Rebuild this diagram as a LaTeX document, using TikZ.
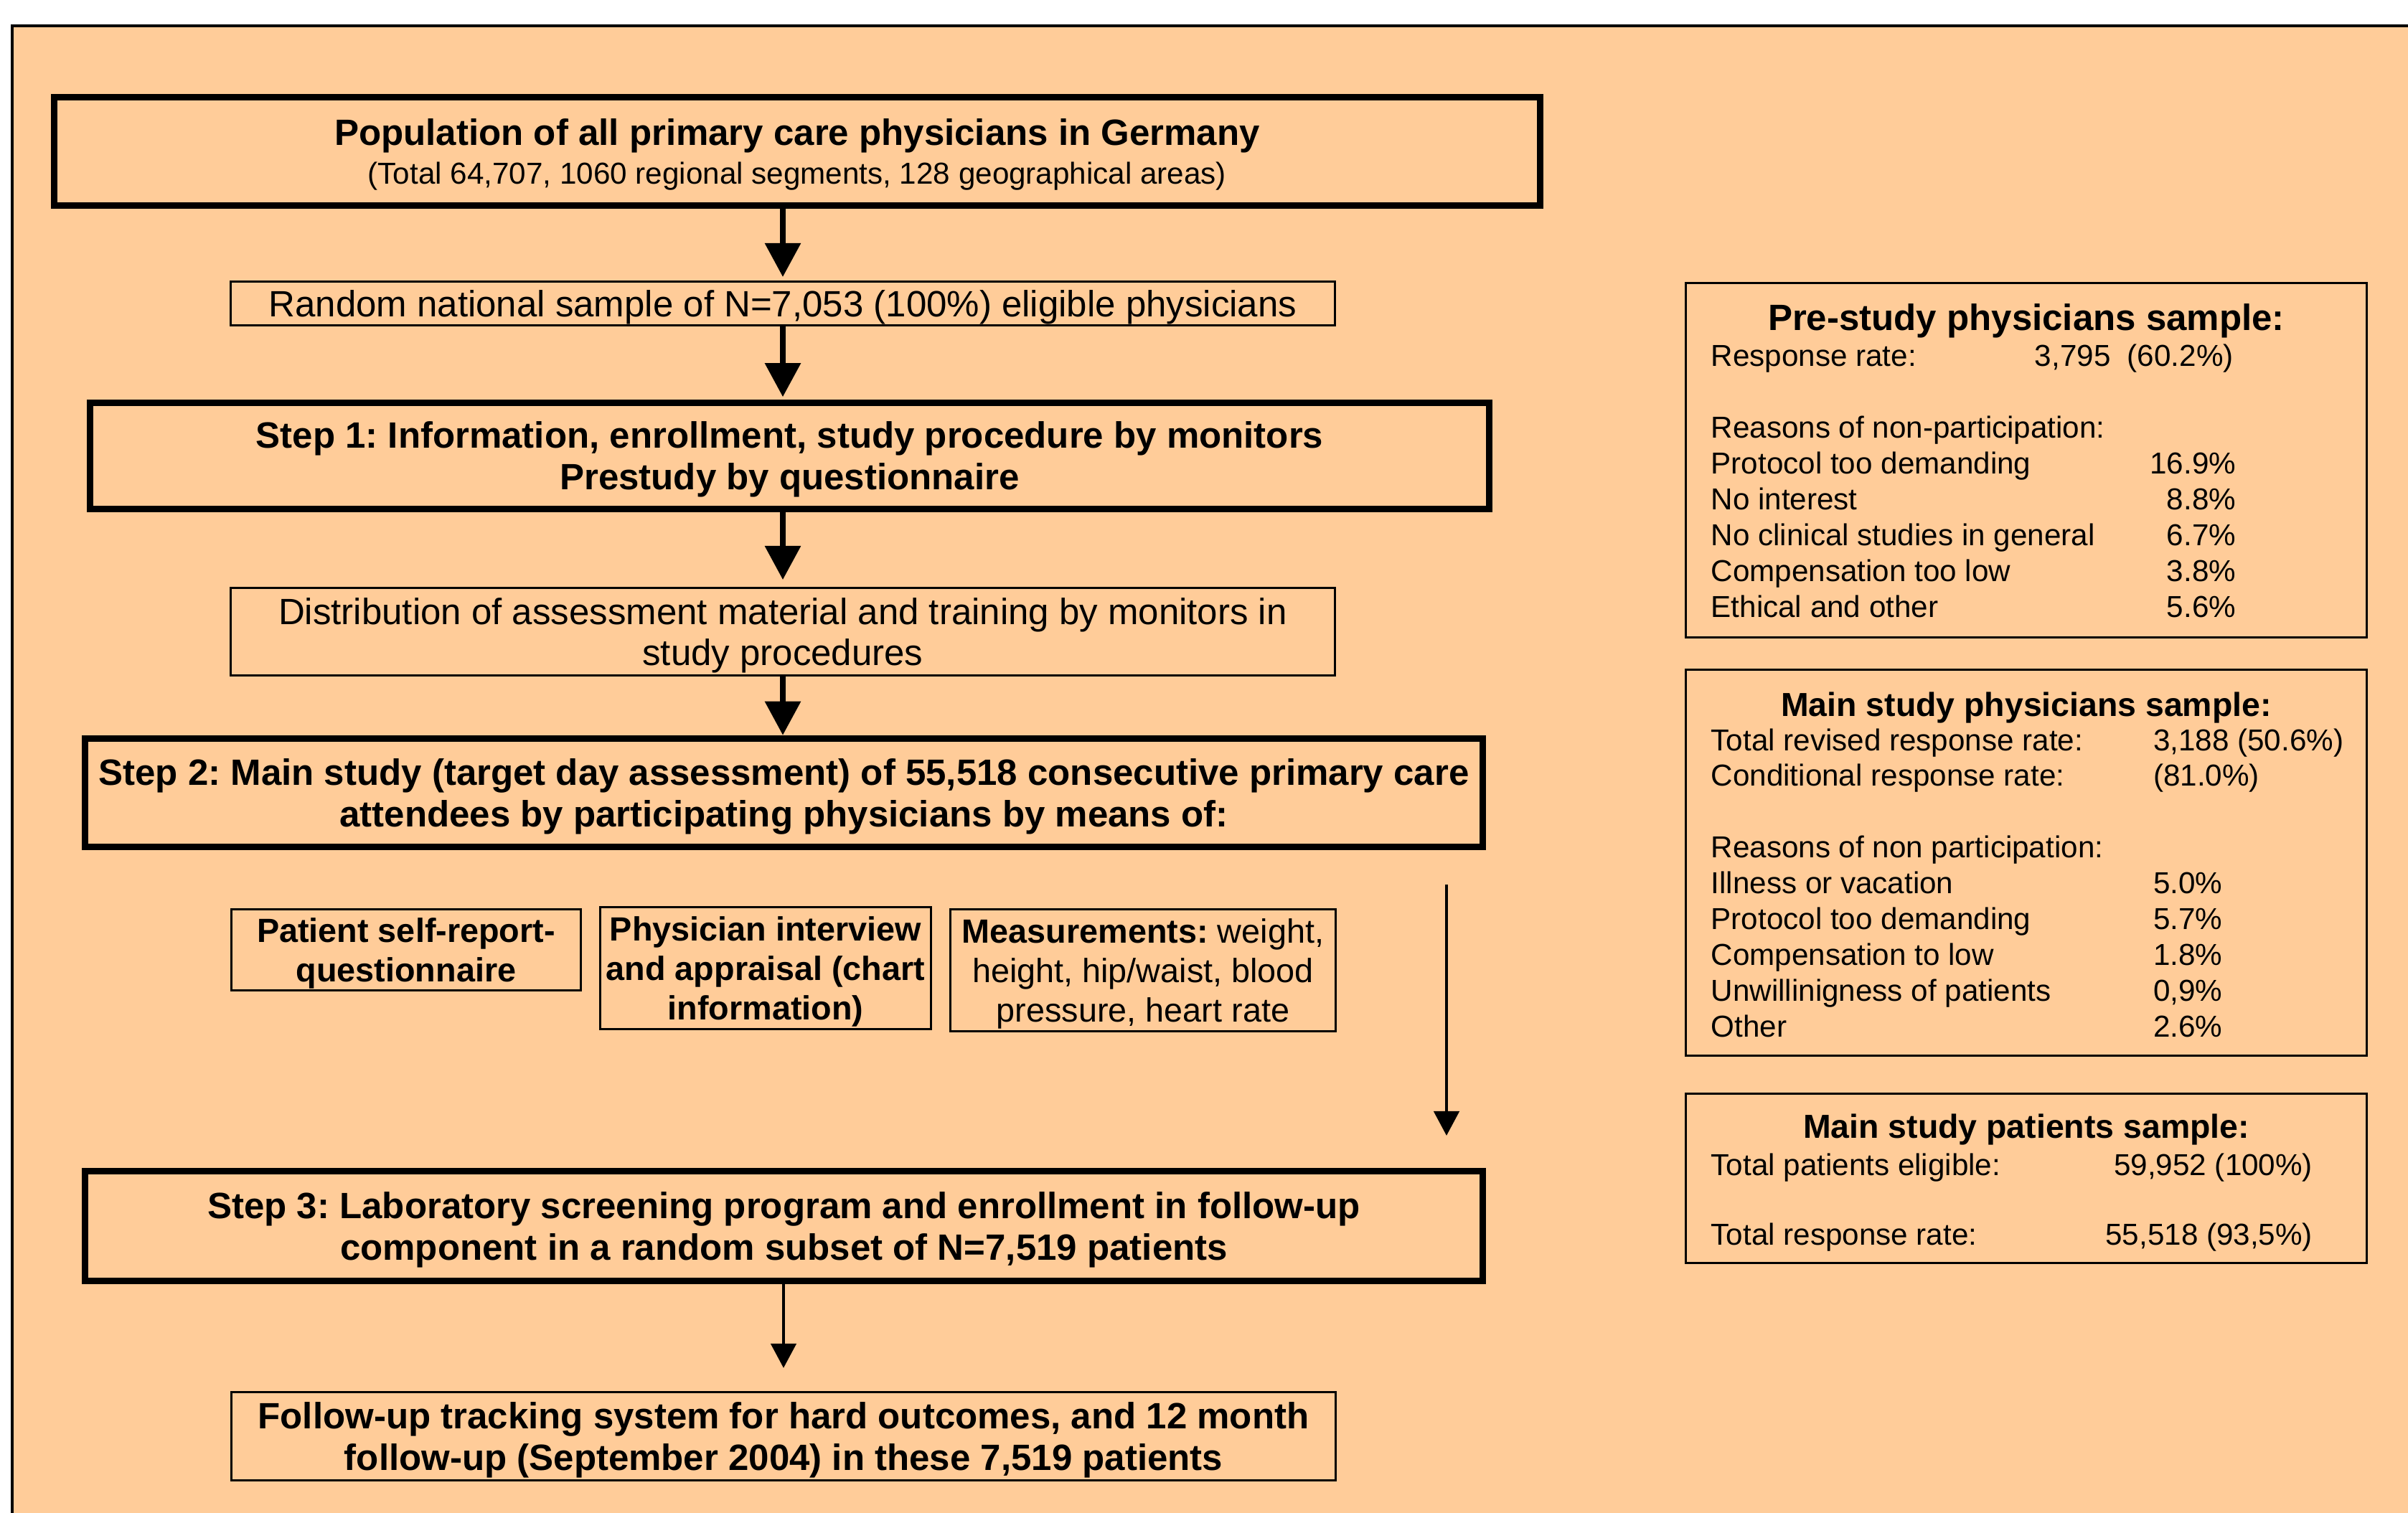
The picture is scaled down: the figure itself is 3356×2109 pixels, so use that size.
\documentclass[tikz,border=0pt]{standalone}
\usepackage{fontspec}
\setmainfont{Liberation Sans}
\usetikzlibrary{arrows.meta}
\definecolor{peach}{RGB}{255,204,153}
\frenchspacing
\begin{document}
\begin{tikzpicture}[x=0.01cm,y=-0.01cm,
 thickbox/.style={draw, line width=2.56pt, inner sep=0pt, outer sep=0pt, align=center, text depth=0pt, font=\bfseries\fontsize{14.5}{16.5}\selectfont},
 thinbox/.style={draw, line width=0.85pt, inner sep=0pt, outer sep=0pt, align=center, text depth=0pt, font=\fontsize{14.5}{16}\selectfont},
 smallbox/.style={thinbox, font=\bfseries\fontsize{13.3}{15.6}\selectfont},
 smallplain/.style={thinbox, font=\fontsize{13.3}{15.6}\selectfont},
 sidebox/.style={draw, line width=0.85pt, inner sep=0pt, outer sep=0pt, minimum width=9.48cm},
 bigarrow/.style={line width=2pt, -{Triangle[width=13.9pt,length=13.4pt]}},
 smallarrow/.style={line width=1.28pt, -{Triangle[width=10pt,length=9.7pt]}},
 bodytext/.style={anchor=base west, inner sep=0pt, font=\fontsize{12}{14.2}\selectfont},
 headtext/.style={anchor=base, inner sep=0pt, font=\bfseries\fontsize{13.2}{15}\selectfont},
]
\path[use as bounding box] (0,0) rectangle (3356,2109);
\fill[white] (0,0) rectangle (3356,2109);
\fill[peach] (17,36) rectangle (3356,2109);
\draw[line width=1.14pt] (17,2109) -- (17,36) -- (3356,36);

% left flow
\node[thickbox, minimum width=20.70cm, minimum height=1.50cm] (pop) at (1111,211)
 {Population of all primary care physicians in Germany\\[-1pt]
  {\mdseries\fontsize{12}{14}\selectfont (Total 64,707, 1060 regional segments, 128 geographical areas)}};
\node[thinbox, minimum width=15.38cm, minimum height=0.60cm] (rnd) at (1091,423)
 {Random national sample of N=7,053 (100\%) eligible physicians};
\node[thickbox, minimum width=19.49cm, minimum height=1.47cm] (s1) at (1100.5,635.5)
 {Step 1: Information, enrollment, study procedure by monitors\\ Prestudy by questionnaire};
\node[thinbox, minimum width=15.38cm, minimum height=1.21cm] (dist) at (1091,880.5)
 {Distribution of assessment material and training by monitors in\\ study procedures};
\node[thickbox, minimum width=19.47cm, minimum height=1.50cm] (s2) at (1092.5,1105)
 {Step 2: Main study (target day assessment) of 55,518 consecutive primary care\\ attendees by participating physicians by means of:};
\node[smallbox, minimum width=4.86cm, minimum height=1.12cm] (pat) at (566,1324)
 {Patient self-report-\\ questionnaire};
\node[smallbox, minimum width=4.60cm, minimum height=1.69cm] (phy) at (1067,1349.5)
 {Physician interview\\ and appraisal (chart\\ information)};
\node[smallplain, minimum width=5.36cm, minimum height=1.69cm] (meas) at (1593,1352.5)
 {\textbf{Measurements:} weight,\\ height, hip/waist, blood\\ pressure, heart rate};
\node[thickbox, minimum width=19.47cm, minimum height=1.52cm] (s3) at (1092.5,1709)
 {Step 3: Laboratory screening program and enrollment in follow-up\\ component in a random subset of N=7,519 patients};
\node[thinbox, font=\bfseries\fontsize{14.5}{16.5}\selectfont, minimum width=15.38cm, minimum height=1.22cm] (fu) at (1092,2002)
 {Follow-up tracking system for hard outcomes, and 12 month\\ follow-up (September 2004) in these 7,519 patients};

\coordinate (la1) at (2016,1233);
\coordinate (la2) at (2016,1583);

\draw[bigarrow, shorten >=2pt] (pop.south -| rnd.north) -- (rnd.north);
\draw[bigarrow, shorten >=2.5pt] (rnd.south) -- (rnd.south |- s1.north);
\draw[bigarrow, shorten >=3.4pt] (rnd.south |- s1.south) -- (dist.north);
\draw[bigarrow, shorten >=1.5pt] (dist.south) -- (dist.south |- s2.north);
\draw[smallarrow] (la1) -- (la2);
\draw[smallarrow, shorten >=9.7pt] (s3.south -| fu.north) -- (fu.north);

% right boxes
\node[sidebox, minimum height=4.93cm] (pre) at (2824,641.5) {};
\node[headtext, font=\bfseries\fontsize{14.5}{16}\selectfont] (preH) at (2824,461) {Pre-study physicians sample:};
\node[bodytext] (preB) at (2384,511) {\begin{tabular}[t]{@{}l@{}}
\makebox[128.3pt][l]{Response rate:}3,795\ \ (60.2\%)\\
\\
Reasons of non-participation:\\
\makebox[150pt][l]{Protocol too demanding}\makebox[58pt][r]{16.9\%}\\
\makebox[150pt][l]{No interest}\makebox[58pt][r]{8.8\%}\\
\makebox[150pt][l]{No clinical studies in general}\makebox[58pt][r]{6.7\%}\\
\makebox[150pt][l]{Compensation too low}\makebox[58pt][r]{3.8\%}\\
\makebox[150pt][l]{Ethical and other}\makebox[58pt][r]{5.6\%}
\end{tabular}};

\node[sidebox, minimum height=5.37cm] (mphys) at (2824,1202.5) {};
\node[headtext] (mphysH) at (2824,998) {Main study physicians sample:};
\node[bodytext] (mphysB) at (2384,1046) {\begin{tabular}[t]{@{}l@{}}
\makebox[175.3pt][l]{Total revised response rate:}3,188 (50.6\%)\\
\makebox[175.3pt][l]{Conditional response rate:}(81.0\%)\\
\\
Reasons of non participation:\\
\makebox[175.3pt][l]{Illness or vacation}5.0\%\\
\makebox[175.3pt][l]{Protocol too demanding}5.7\%\\
\makebox[175.3pt][l]{Compensation to low}1.8\%\\
\makebox[175.3pt][l]{Unwillinigness of patients}0,9\%\\
\makebox[175.3pt][l]{Other}2.6\%
\end{tabular}};

\node[sidebox, minimum height=2.35cm] (mpat) at (2824,1642.5) {};
\node[headtext] (mpatH) at (2824,1586) {Main study patients sample:};
\node[bodytext, font=\fontsize{12}{13.8}\selectfont] (mpatB) at (2384,1638) {\begin{tabular}[t]{@{}l@{}}
\makebox[150pt][l]{Total patients eligible:}\makebox[88.4pt][r]{59,952 (100\%)}\\
\\
\makebox[150pt][l]{Total response rate:}\makebox[88.4pt][r]{55,518 (93,5\%)}
\end{tabular}};
\end{tikzpicture}
\end{document}
